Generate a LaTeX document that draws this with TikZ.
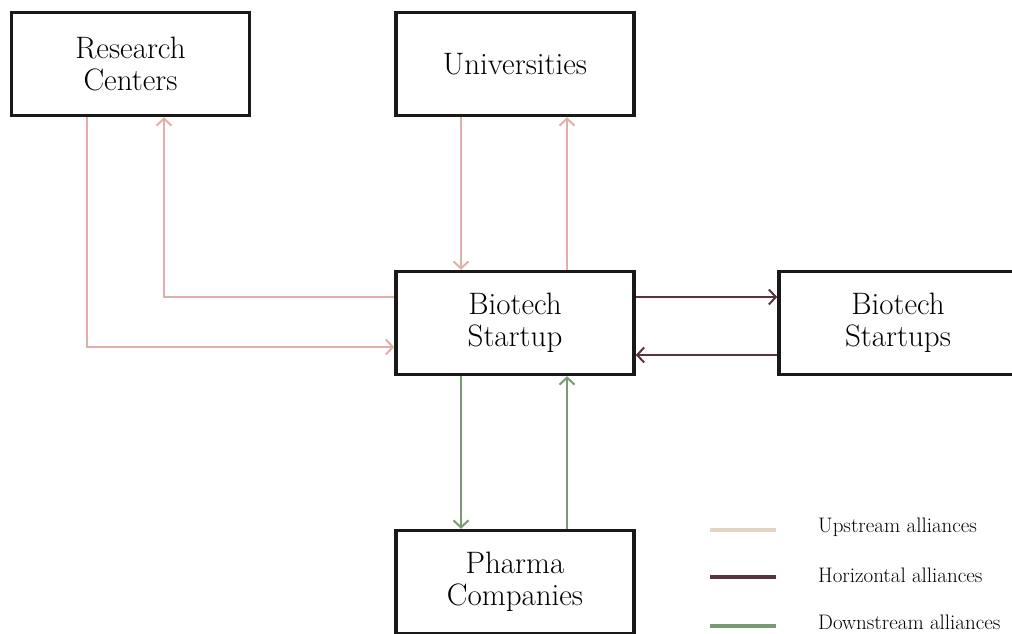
\documentclass[tikz,border=0pt]{standalone}
\usetikzlibrary{arrows.meta}

\definecolor{upcol}{HTML}{E0B0A8}
\definecolor{uplegend}{HTML}{E2D5C4}
\definecolor{horcol}{HTML}{5A3340}
\definecolor{downcol}{HTML}{7A9A74}

\tikzset{
  box/.style={draw=black!90, line width=3.5pt, fill=white, minimum width=238pt,
    minimum height=103pt, align=center, inner sep=0pt,
    font=\fontsize{31}{32}\selectfont},
  link/.style={line width=2pt, -{Straight Barb[length=7pt,width=15pt,line width=2pt]}},
  up/.style={link, draw=upcol},
  hor/.style={link, draw=horcol},
  down/.style={link, draw=downcol},
  legtext/.style={anchor=west, inner sep=0pt, font=\fontsize{21}{24}\selectfont}
}

\begin{document}
\begin{tikzpicture}[x=1pt, y=-1pt, line cap=butt, line join=miter]
  \useasboundingbox (0,0) rectangle (1012,634);
  % The five parties.
  \node[box] (rc) at (130.5,64) {Research\\Centers};
  \node[box] (un) at (515,64) {Universities};
  \node[box] (bs) at (515,323) {Biotech\\Startup};
  \node[box] (bss) at (898,323) {Biotech\\Startups};
  \node[box] (ph) at (515,582) {Pharma\\Companies};
  % Upstream alliances.
  \draw[up] ([xshift=-43.5pt]rc.south) |- ([yshift=-24pt]bs.west);
  \draw[up] ([yshift=26pt]bs.west) -| ([xshift=33.5pt]rc.south);
  \draw[up] ([xshift=-54pt]un.south) -- ([xshift=-54pt]bs.north);
  \draw[up] ([xshift=52pt]bs.north) -- ([xshift=52pt]un.south);
  % Horizontal alliances.
  \draw[hor] ([yshift=26pt]bs.east) -- ([yshift=26pt]bss.west);
  \draw[hor] ([yshift=-32pt]bss.west) -- ([yshift=-32pt]bs.east);
  % Downstream alliances.
  \draw[down] ([xshift=-54pt]bs.south) -- ([xshift=-54pt]ph.north);
  \draw[down] ([xshift=52pt]ph.north) -- ([xshift=52pt]bs.south);
  % Legend.
  \draw[line width=3.5pt, uplegend] (710,530) -- (776,530);
  \draw[line width=3.5pt, horcol] (710,577) -- (776,577);
  \draw[line width=3.5pt, downcol] (710,626) -- (776,626);
  \node[legtext] (lup) at (818,527) {Upstream alliances};
  \node[legtext] (lhor) at (818,575) {Horizontal alliances};
  \node[legtext] (ldown) at (818,622) {Downstream alliances};
\end{tikzpicture}
\end{document}
